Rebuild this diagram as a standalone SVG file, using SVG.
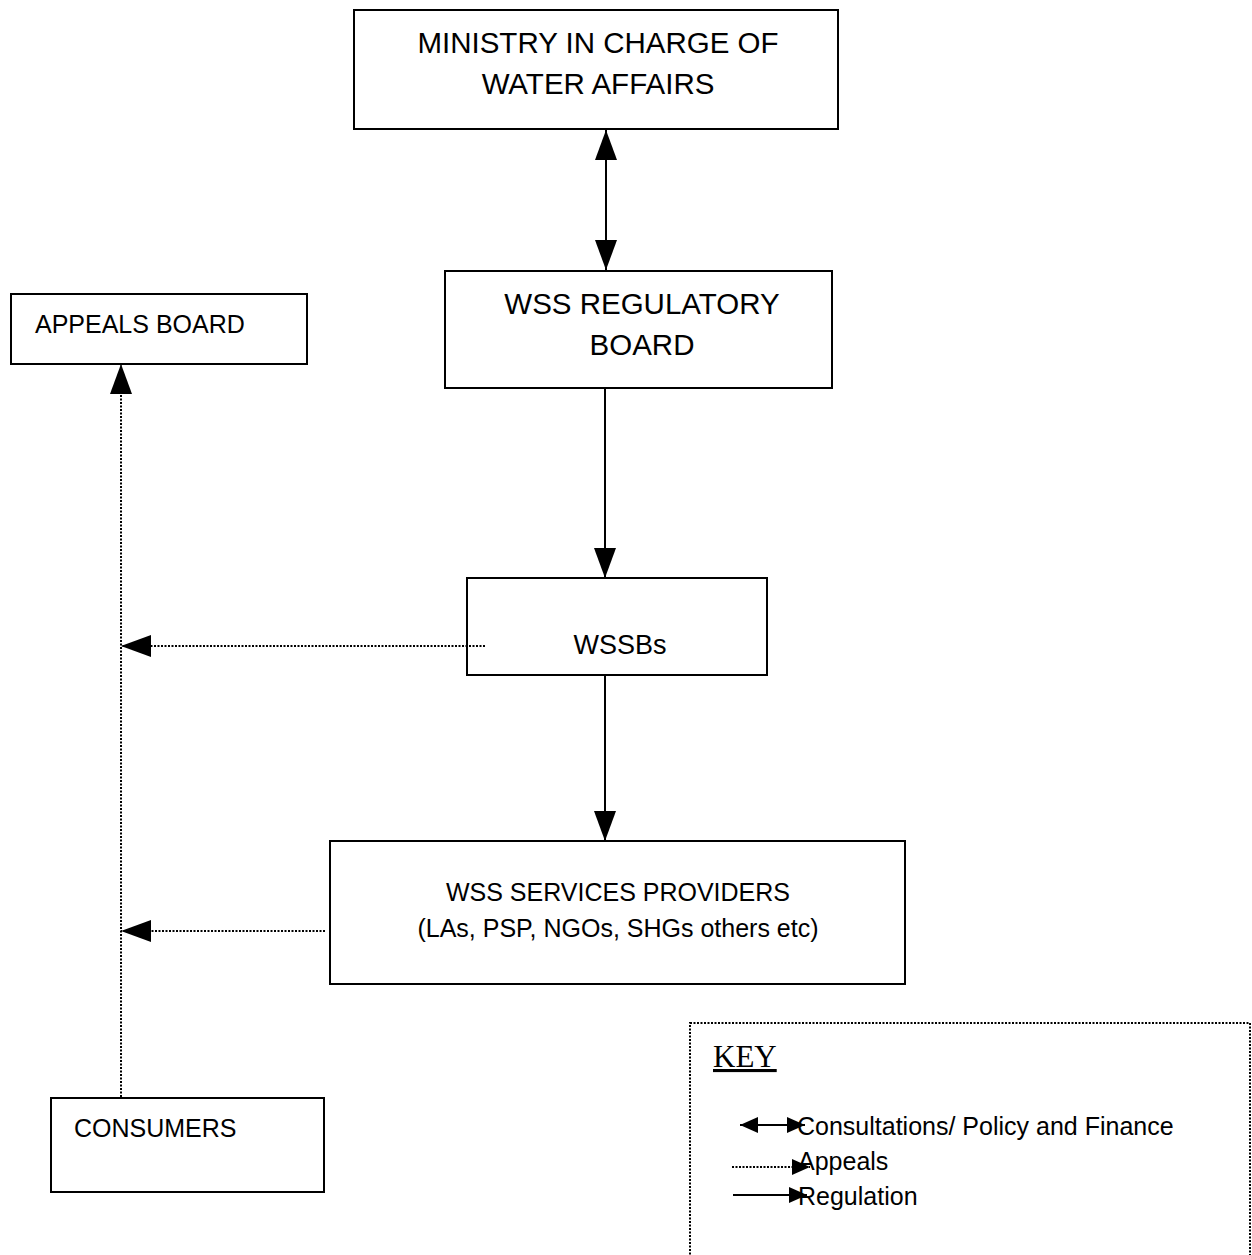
<svg xmlns="http://www.w3.org/2000/svg" width="1252" height="1255" viewBox="0 0 1252 1255">
<style>
.box{fill:#fff;stroke:#000;stroke-width:2}
.t{font-family:"Liberation Sans",Arial,sans-serif;fill:#000}
.solid{stroke:#000;stroke-width:2;fill:none}
.dot{stroke:#000;stroke-width:2;stroke-dasharray:2 1.5;fill:none}
</style>
<defs>
<marker id="ah" viewBox="0 0 30 22" refX="30" refY="11" markerWidth="30" markerHeight="22" markerUnits="userSpaceOnUse" orient="auto-start-reverse"><path d="M0,0 L30,11 L0,22 Z" fill="#000"/></marker>
<marker id="ahs" viewBox="0 0 18 16" refX="18" refY="8" markerWidth="18" markerHeight="16" markerUnits="userSpaceOnUse" orient="auto-start-reverse"><path d="M0,0 L18,8 L0,16 Z" fill="#000"/></marker>
</defs>
<rect width="1252" height="1255" fill="#fff"/>
<g id="ministry"><rect class="box" x="354" y="10" width="484" height="119"/>
<text class="t" font-size="29.5" text-anchor="middle" x="598" y="53">MINISTRY IN CHARGE OF</text>
<text class="t" font-size="29.5" text-anchor="middle" x="598" y="94">WATER AFFAIRS</text></g>
<g id="regulatory"><rect class="box" x="445" y="271" width="387" height="117"/>
<text class="t" font-size="29.5" text-anchor="middle" x="642" y="314">WSS REGULATORY</text>
<text class="t" font-size="29.5" text-anchor="middle" x="642" y="355">BOARD</text></g>
<g id="appeals"><rect class="box" x="11" y="294" width="296" height="70"/>
<text class="t" font-size="25" x="35" y="333">APPEALS BOARD</text></g>
<g id="wssbs"><rect class="box" x="467" y="578" width="300" height="97"/>
<text class="t" font-size="27" text-anchor="middle" x="620" y="654">WSSBs</text></g>
<g id="providers"><rect class="box" x="330" y="841" width="575" height="143"/>
<text class="t" font-size="25" text-anchor="middle" x="618" y="901">WSS SERVICES PROVIDERS</text>
<text class="t" font-size="25" text-anchor="middle" x="618" y="937">(LAs, PSP, NGOs, SHGs others etc)</text></g>
<g id="consumers"><rect class="box" x="51" y="1098" width="273" height="94"/>
<text class="t" font-size="25" x="74" y="1137">CONSUMERS</text></g>
<g id="connectors">
<line class="solid" x1="606" y1="130" x2="606" y2="270" marker-start="url(#ah)" marker-end="url(#ah)"/>
<line class="solid" x1="605" y1="388" x2="605" y2="578" marker-end="url(#ah)"/>
<line class="solid" x1="605" y1="675" x2="605" y2="841" marker-end="url(#ah)"/>
<line class="dot" x1="485" y1="646" x2="121" y2="646" marker-end="url(#ah)"/>
<line class="dot" x1="325" y1="931" x2="121" y2="931" marker-end="url(#ah)"/>
<line class="dot" x1="121" y1="1097" x2="121" y2="364" marker-end="url(#ah)"/>
</g>
<g id="key">
<rect x="690" y="1023" width="560" height="240" fill="none" stroke="#000" stroke-width="2" stroke-dasharray="2 1.5"/>
<text font-family="'Liberation Serif','Times New Roman',serif" font-size="31" x="713" y="1067" text-decoration="underline">KEY</text>
<line class="solid" x1="740" y1="1125" x2="805" y2="1125" marker-start="url(#ahs)" marker-end="url(#ahs)"/>
<text class="t" font-size="25" x="797" y="1135">Consultations/ Policy and Finance</text>
<line class="dot" x1="732" y1="1167" x2="810" y2="1167" marker-end="url(#ahs)"/>
<text class="t" font-size="25" x="798" y="1170">Appeals</text>
<line class="solid" x1="733" y1="1195" x2="807" y2="1195" marker-end="url(#ahs)"/>
<text class="t" font-size="25" x="798" y="1205">Regulation</text>
</g>
</svg>
